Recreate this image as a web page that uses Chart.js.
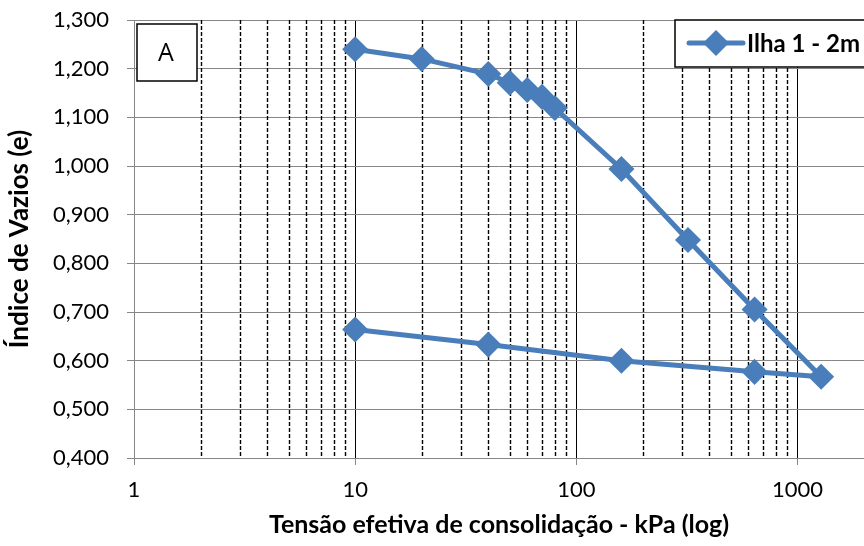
<!DOCTYPE html>
<html>
<head>
<meta charset="utf-8">
<script src="https://cdn.jsdelivr.net/npm/chart.js@4"></script>
<style>
  html, body { margin: 0; padding: 0; background: #fff; overflow: hidden; }
  #wrap { width: 864px; height: 546px; position: relative; }
</style>
</head>
<body>
<div id="wrap"><canvas id="c" width="864" height="546"></canvas></div>
<script>
// Ensaio de adensamento: carregamento e descarregamento
const tensao = [10, 20, 40, 50, 60, 70, 80, 160, 320, 640, 1280, 640, 160, 40, 10];
const indiceVazios = [1.240, 1.220, 1.189, 1.171, 1.156, 1.142, 1.119, 0.994, 0.848, 0.705, 0.567, 0.577, 0.600, 0.633, 0.664];
const serieNome = 'Ilha 1 - 2m';
const ticksDecadas = [1, 10, 100, 1000];
const ticksMenores = [2, 3, 4, 5, 6, 7, 8, 9, 20, 30, 40, 50, 60, 70, 80, 90, 200, 300, 400, 500, 600, 700, 800, 900];

const FONT = 'Lato, "Open Sans", sans-serif';
const AZUL = '#4A7EBB';

// a área do gráfico vai até a borda direita do canvas
const areaTotal = {
    id: 'areaTotal',
    afterLayout(chart){
        const a = chart.chartArea, x = chart.scales.x;
        a.right = chart.width;
        a.width = a.right - a.left;
        x.right = chart.width;
        x.width = x.right - x.left;
        x.configure();
    }
};

// linhas verticais tracejadas nas subdivisões de cada década
const gradeMenor = {
    id: 'gradeMenor',
    beforeDatasetsDraw(chart){
        const x = chart.scales.x, a = chart.chartArea, ctx = chart.ctx;
        ctx.save();
        ctx.strokeStyle = '#000';
        ctx.lineWidth = 1.4;
        ctx.setLineDash([4, 2]);
        ticksMenores.forEach(v=>{
            const px = Math.round(x.getPixelForValue(v)) + 0.5;
            ctx.beginPath(); ctx.moveTo(px, a.top); ctx.lineTo(px, a.bottom); ctx.stroke();
        });
        ctx.restore();
    }
};

// caixa "A" e legenda desenhadas sobre a área do gráfico
const caixas = {
    id: 'caixas',
    afterDraw(chart){
        const ctx = chart.ctx;
        ctx.save();
        ctx.lineWidth = 1.5;
        ctx.strokeStyle = '#000';
        ctx.fillStyle = '#fff';
        ctx.fillRect(137, 24, 60, 57);
        ctx.strokeRect(137, 24, 60, 57);
        ctx.fillStyle = '#000';
        ctx.font = '25px "Open Sans", sans-serif';
        ctx.textAlign = 'center';
        ctx.textBaseline = 'middle';
        ctx.fillText('A', 166, 54);

        ctx.fillStyle = '#fff';
        ctx.fillRect(675, 20, 200, 47);
        ctx.strokeRect(675, 20, 200, 47);
        const ds = chart.data.datasets[0];
        ctx.strokeStyle = ds.borderColor;
        ctx.lineWidth = ds.borderWidth;
        ctx.lineCap = 'round';
        ctx.beginPath(); ctx.moveTo(689, 43); ctx.lineTo(743, 43); ctx.stroke();
        Chart.helpers.drawPoint(ctx, {pointStyle: 'rectRot', radius: ds.pointRadius, borderWidth: 1}, 716, 43);
        ctx.fillStyle = ds.pointBackgroundColor;
        ctx.fill();
        ctx.fillStyle = '#000';
        ctx.font = 'bold 24px ' + FONT;
        ctx.textAlign = 'left';
        ctx.fillText(serieNome, 747, 44);
        ctx.restore();
    }
};

new Chart(document.getElementById('c'), {
    type: 'scatter',
    data: {
        datasets: [{
            label: serieNome,
            data: tensao.map((t, i)=>({x: t, y: indiceVazios[i]})),
            showLine: true,
            borderColor: AZUL,
            backgroundColor: AZUL,
            pointBackgroundColor: AZUL,
            pointBorderColor: AZUL,
            borderWidth: 5,
            pointStyle: 'rectRot',
            pointRadius: 9.5,
            pointHoverRadius: 9.5,
            tension: 0
        }]
    },
    options: {
        responsive: false,
        animation: false,
        events: [],
        layout: { padding: { top: 20, left: 0, right: 0, bottom: 0 } },
        plugins: { legend: { display: false }, tooltip: { enabled: false } },
        scales: {
            x: {
                type: 'logarithmic',
                min: 1,
                max: 2000,
                afterBuildTicks(s){ s.ticks = ticksDecadas.map(v=>({value: v})); },
                afterFit(s){ s.height = 88; s.paddingLeft = 0; s.paddingRight = 0; },
                ticks: {
                    color: '#000',
                    font: { family: FONT, size: 22 },
                    padding: 12,
                    maxRotation: 0,
                    autoSkip: false,
                    callback: v => String(v)
                },
                grid: {
                    color: c => c.tick && c.tick.value === 1 ? '#868686' : '#000',
                    lineWidth: 1,
                    tickColor: '#868686',
                    tickLength: 7,
                    drawOnChartArea: true
                },
                border: { color: '#868686', width: 1 },
                title: {
                    display: true,
                    text: 'Tensão efetiva de consolidação - kPa (log)',
                    color: '#000',
                    font: { family: FONT, size: 25, weight: 'bold' },
                    padding: { top: 0, bottom: 6 }
                }
            },
            y: {
                min: 0.4,
                max: 1.3,
                afterFit(s){ s.width = 134; s.paddingTop = 0; s.paddingBottom = 0; },
                ticks: {
                    stepSize: 0.1,
                    color: '#000',
                    font: { family: FONT, size: 22 },
                    padding: 18,
                    callback: v => v.toFixed(3).replace('.', ',')
                },
                grid: {
                    color: '#868686',
                    lineWidth: 1,
                    tickColor: '#868686',
                    tickLength: 7
                },
                border: { color: '#868686', width: 1 },
                title: {
                    display: true,
                    text: 'Índice de Vazios (e)',
                    color: '#000',
                    font: { family: FONT, size: 26, weight: 'bold' },
                    padding: { top: 4, bottom: 0 }
                }
            }
        }
    },
    plugins: [areaTotal, gradeMenor, caixas]
});
</script>
</body>
</html>
